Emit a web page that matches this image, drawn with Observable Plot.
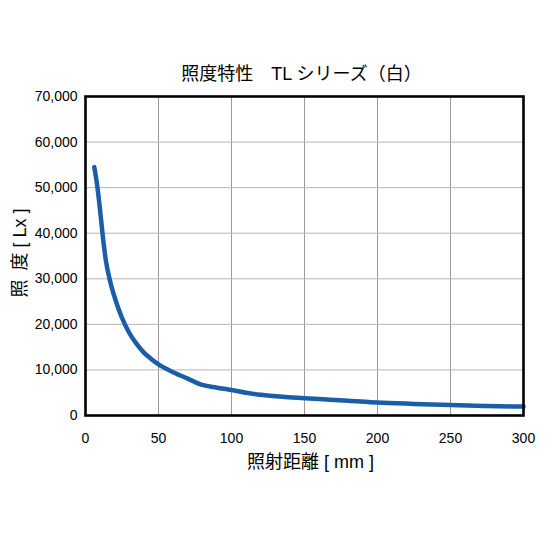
<!DOCTYPE html>
<html>
<head>
<meta charset="utf-8">
<script src="https://cdn.jsdelivr.net/npm/d3@7"></script>
<script src="https://cdn.jsdelivr.net/npm/@observablehq/plot@0.6"></script>
<style>
  body { margin: 0; background: #fff; }
</style>
</head>
<body>
<div id="chart"></div>
<script>
const titleText = "照度特性\u2002\u2002TL シリーズ（白）";
const xLabel = "照射距離 [ mm ]";
const yLabel = "照\u2002度 [ Lx ]";

const distance = [6, 8, 10, 12, 14, 17, 20, 25, 30, 35, 40, 45, 50, 60, 70, 80, 90, 100, 110, 120, 135, 150, 160, 180, 200, 225, 250, 275, 300];
const lux = [54500, 50500, 45000, 38900, 33900, 29300, 25900, 21400, 18100, 15700, 13800, 12400, 11200, 9500, 8100, 6700, 6100, 5600, 5000, 4550, 4100, 3800, 3600, 3250, 2850, 2550, 2300, 2100, 1950];

const xTicks = [0, 50, 100, 150, 200, 250, 300];
const yTicks = [0, 10000, 20000, 30000, 40000, 50000, 60000, 70000];

const font = "'Liberation Sans', Arial, 'Noto Sans CJK JP', sans-serif";

const chart = Plot.plot({
  width: 550,
  height: 550,
  marginLeft: 85,
  marginRight: 27,
  marginTop: 96,
  marginBottom: 135,
  style: { fontFamily: font, color: "#000", background: "#fff" },
  x: { domain: [0, 300] },
  y: { domain: [0, 70000] },
  marks: [
    Plot.ruleX(xTicks.slice(1, -1), { stroke: "#9a9a9a", strokeWidth: 1, strokeOpacity: 1 }),
    Plot.ruleY(yTicks.slice(1, -1), { stroke: "#b4b4b4", strokeWidth: 1, strokeOpacity: 1 }),
    Plot.axisX({ ticks: xTicks, tickSize: 0, tickPadding: 18, fontSize: 14, label: null }),
    Plot.axisY({ ticks: yTicks, tickSize: 0, tickPadding: 8, fontSize: 14, tickFormat: (d) => d.toLocaleString("en-US"), label: null }),
    Plot.line(lux, { x: distance, y: lux, stroke: "#1a5ea8", strokeWidth: 4.5, curve: "monotone-x" }),
    Plot.frame({ stroke: "#000", strokeWidth: 2.6 }),
    Plot.text([titleText], { frameAnchor: "top", dy: -22, dx: -3, lineAnchor: "middle", textAnchor: "middle", fontSize: 18, fill: "#000" }),
    Plot.text([xLabel], { frameAnchor: "bottom", dy: 47, dx: 6, lineAnchor: "middle", textAnchor: "middle", fontSize: 18, fill: "#000" }),
    Plot.text([yLabel], { frameAnchor: "left", dx: -65, dy: -3, rotate: -90, lineAnchor: "middle", textAnchor: "middle", fontSize: 18, fill: "#000" })
  ]
});
document.getElementById("chart").appendChild(chart);
</script>
</body>
</html>
